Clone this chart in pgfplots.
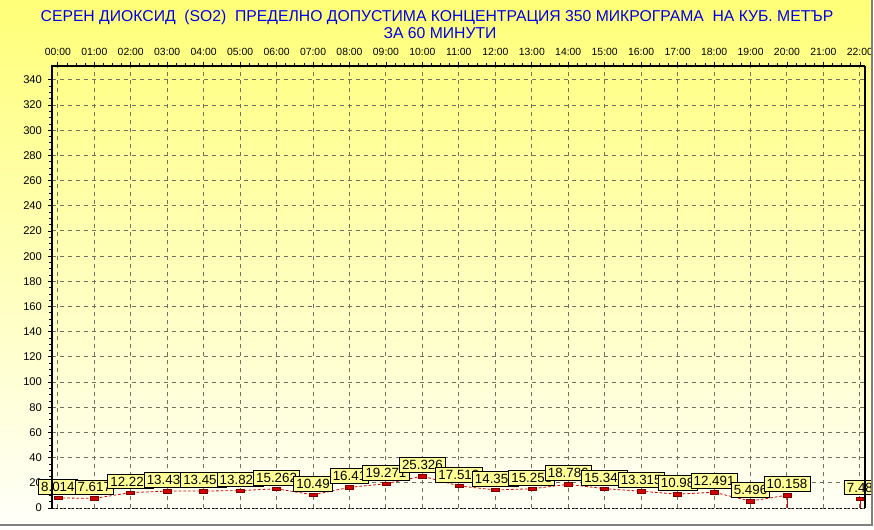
\documentclass[border=0pt]{standalone}
\usepackage{pgfplots}
\pgfplotsset{compat=1.18}
\usepackage{pgfplotstable}
\usepackage{fontspec}
\setmainfont{Liberation Sans}

\definecolor{bgtop}{RGB}{255,255,120}
\definecolor{bgbot}{RGB}{255,255,250}
\definecolor{lblfill}{RGB}{255,255,150}
\definecolor{mkred}{RGB}{210,0,0}
\definecolor{mkdark}{RGB}{120,0,0}
\definecolor{titleblue}{RGB}{0,0,230}
\definecolor{gridgray}{RGB}{115,112,95}

% hourly SO2 values (21:00 has no reading)
\pgfplotstableread{
hour value
0 8.014
1 7.617
2 12.221
3 13.431
4 13.453
5 13.821
6 15.262
7 10.49
8 16.41
9 19.271
10 25.326
11 17.518
12 14.353
13 15.258
14 18.786
15 15.348
16 13.315
17 10.98
18 12.491
19 5.496
20 10.158
}\daytable

\pgfplotstableread{
hour value
22 7.48
}\lasttable

\begin{document}
\begin{tikzpicture}[x=0.75pt,y=0.75pt]
\shade[top color=bgtop, bottom color=bgbot] (0,0) rectangle (874,529);
\useasboundingbox (0,0) rectangle (874,529);

\node[text=titleblue, font=\fontsize{11.8}{14}\selectfont] at (437,512)
  {СЕРЕН ДИОКСИД\ \ (SO2)\ \ ПРЕДЕЛНО ДОПУСТИМА КОНЦЕНТРАЦИЯ 350 МИКРОГРАМА\ \ НА КУБ. МЕТЪР};
\node[text=titleblue, font=\fontsize{11.8}{14}\selectfont] at (440,496) {ЗА 60 МИНУТИ};

\begin{axis}[
  name=ax,
  at={(39pt,15.75pt)}, anchor=south west,
  scale only axis, width=609.75pt, height=331.5pt,
  xmin=-0.16, xmax=22.14, ymin=0, ymax=351,
  axis line style={draw=none},
  xtick={0,...,22},
  xticklabels={00:00,01:00,02:00,03:00,04:00,05:00,06:00,07:00,08:00,09:00,10:00,11:00,
    12:00,13:00,14:00,15:00,16:00,17:00,18:00,19:00,20:00,21:00,22:00},
  xtick pos=right, xticklabel pos=right,
  ytick={0,20,...,340}, ytick pos=left,
  minor x tick num=3, minor y tick num=3,
  tick align=outside,
  major tick length=3pt, minor tick length=2pt,
  tick style={black, line width=0.6pt},
  grid=major,
  grid style={color=gridgray},
  major grid style={color=gridgray, dash pattern=on 3pt off 3pt, line width=0.75pt},
  xticklabel style={font=\fontsize{7.8}{9}\selectfont, yshift=1pt},
  yticklabel style={font=\fontsize{8.4}{10}\selectfont, xshift=-1pt},
  /pgf/number format/assume math mode=true,
  point meta=explicit symbolic,
  nodes near coords style={anchor=south, yshift=2.5pt, draw=black, text=black, line width=0.6pt,
    fill=lblfill, inner xsep=2pt, inner ysep=2pt, font=\fontsize{10}{11}\selectfont},
]
\addplot[mkred, line width=0.6pt, dash pattern=on 2pt off 1.5pt,
  mark=square*, mark size=3pt,
  mark options={solid, fill=mkred, draw=mkdark, yscale=0.45, line width=0.4pt},
  nodes near coords] table[x=hour, y=value, meta=value] {\daytable};
\addplot[mkred, line width=0.6pt] coordinates {(20,10.158) (20,0)};
\addplot[mkred, line width=0.6pt] coordinates {(22,0) (22,7.48)};
\addplot[mkred, draw=none,
  mark=square*, mark size=3pt,
  mark options={solid, fill=mkred, draw=mkdark, yscale=0.45, line width=0.4pt},
  nodes near coords] table[x=hour, y=value, meta=value] {\lasttable};
\end{axis}

\draw[black, dash pattern=on 1.5pt off 1.5pt, line width=0.75pt] (ax.south west) -- (ax.south east);
\draw[black, line width=2pt] (ax.south west) -- (ax.north west) -- (ax.north east);
\draw[black, line width=1.5pt] (ax.north east) -- (ax.south east);

\fill[white] (0,0) rectangle (874,4);
\fill[white] (872,0) rectangle (874,529);
\draw[gray, line width=1.5pt] (0,4) -- (872,4) -- (872,529);
\end{tikzpicture}
\end{document}
